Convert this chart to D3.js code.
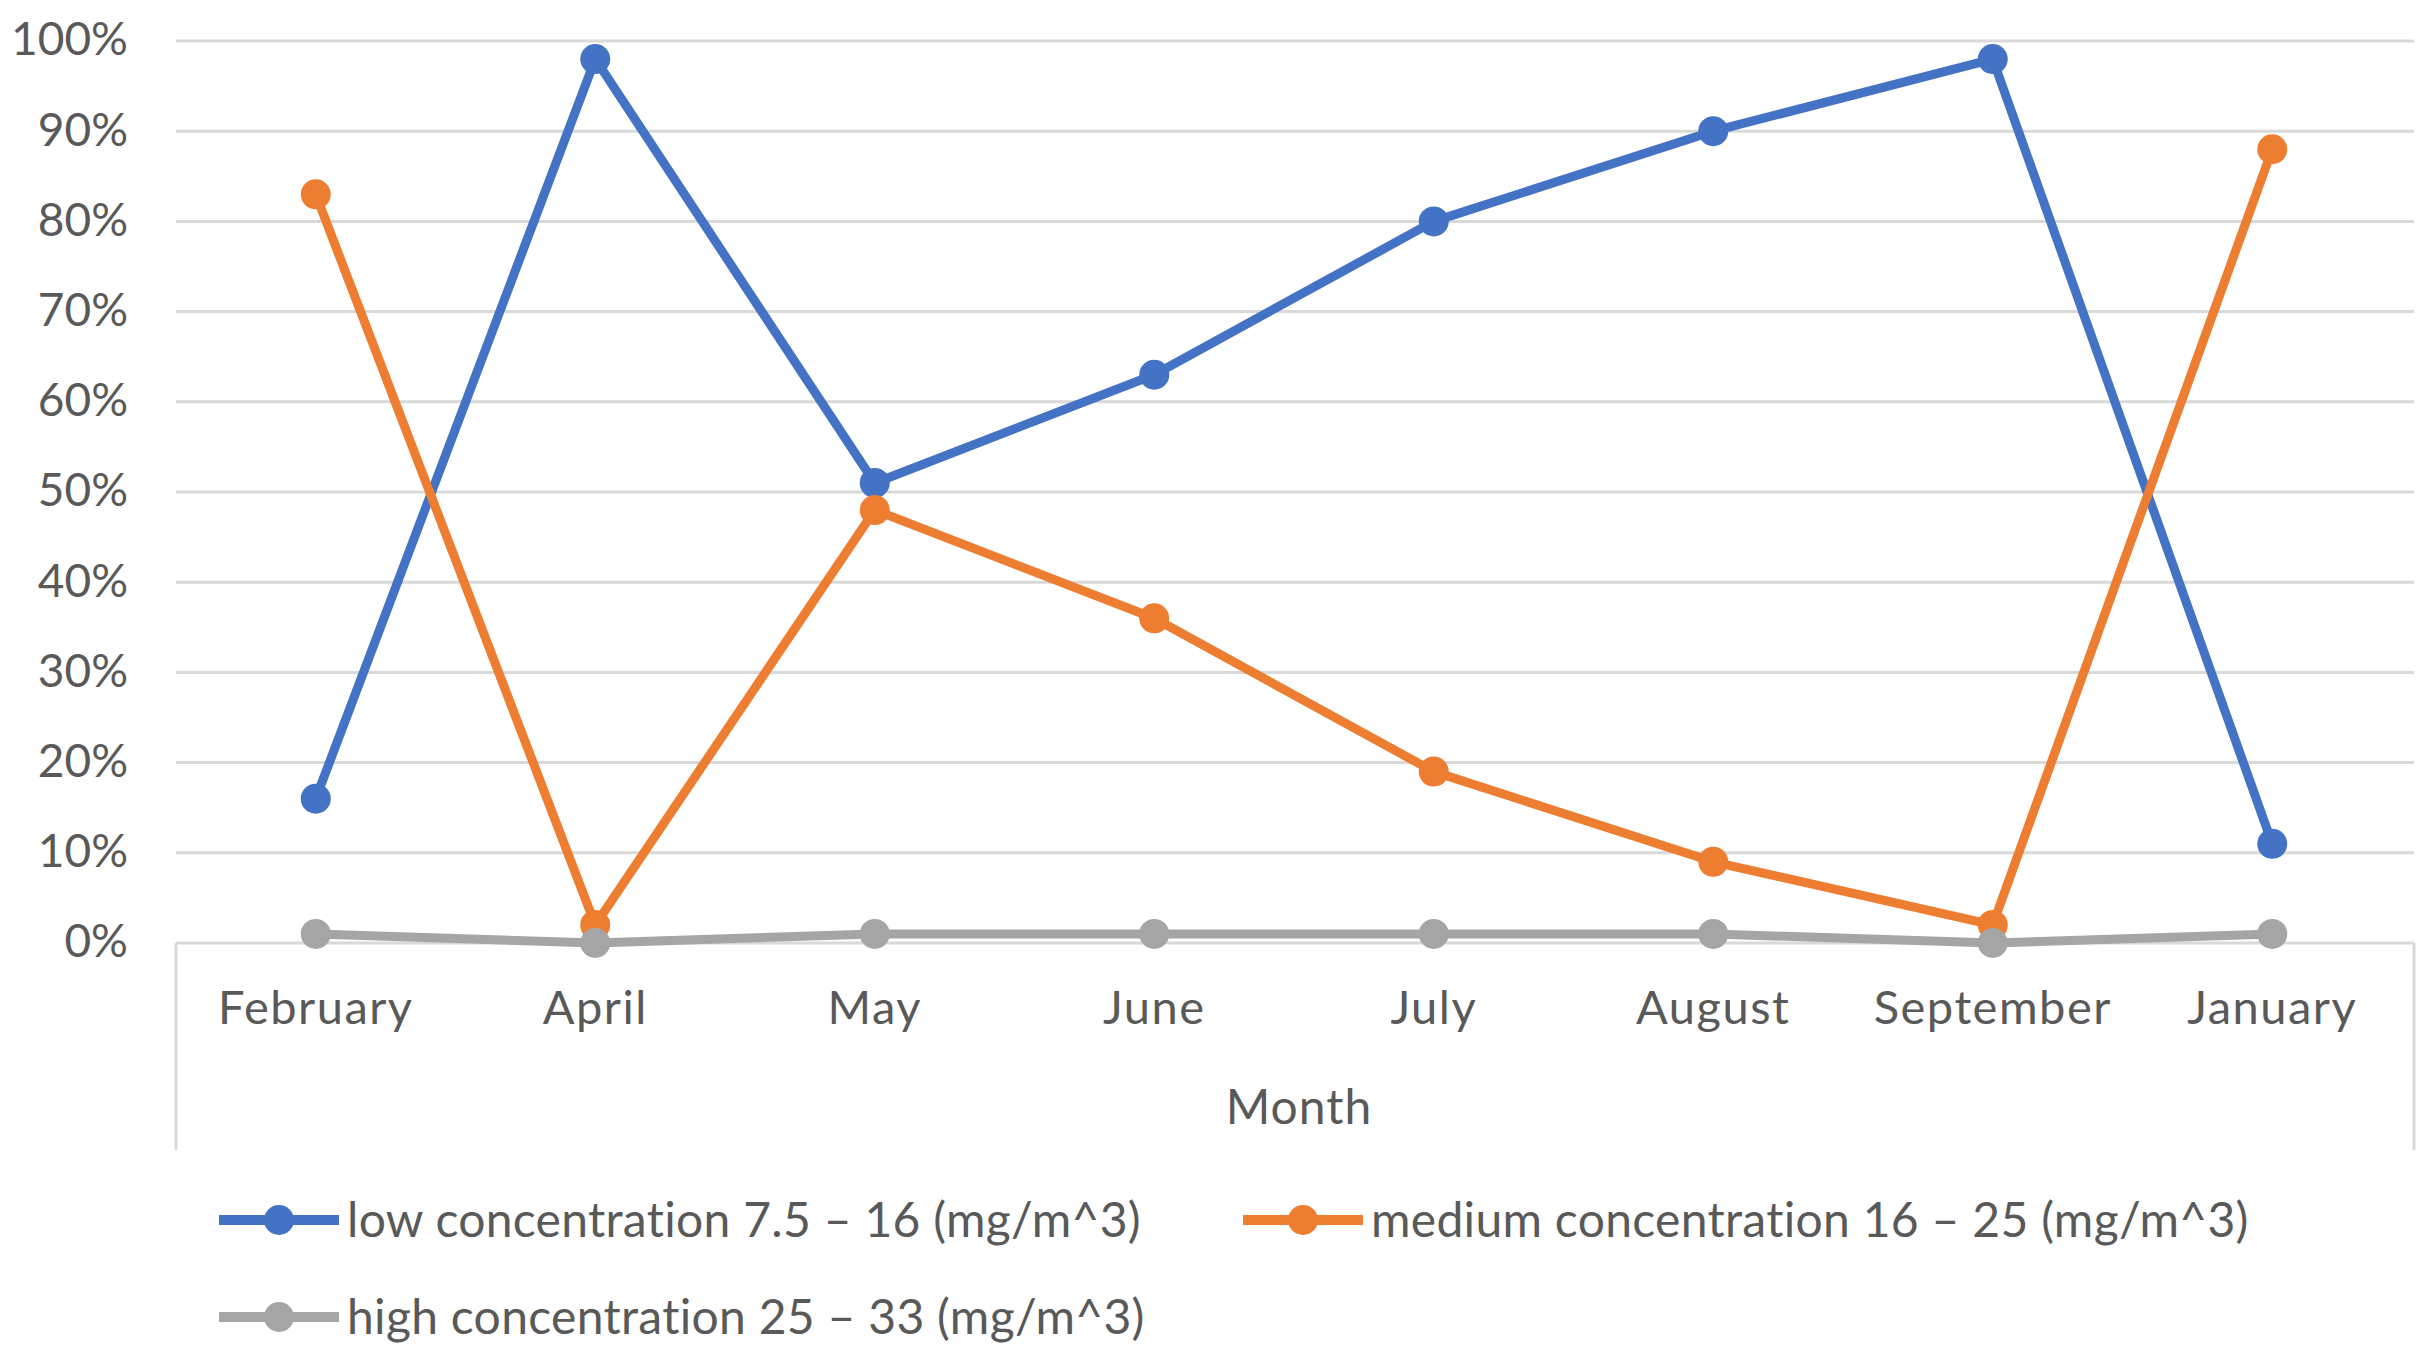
<!DOCTYPE html>
<html>
<head>
<meta charset="utf-8">
<script src="https://cdn.jsdelivr.net/npm/d3@7/dist/d3.min.js"></script>
<style>
  html, body { margin: 0; padding: 0; background: #fff; }
  svg { display: block; }
  text { font-family: Lato, "Open Sans", sans-serif; fill: #595959; }
</style>
</head>
<body>
<svg id="chart" width="2436" height="1352"></svg>
<script>
const months = ["February", "April", "May", "June", "July", "August", "September", "January"];
const lowValues = [16, 98, 51, 63, 80, 90, 98, 11];
const mediumValues = [83, 2, 48, 36, 19, 9, 2, 88];
const highValues = [1, 0, 1, 1, 1, 1, 0, 1];
const yTicks = [0, 10, 20, 30, 40, 50, 60, 70, 80, 90, 100];
const seriesNames = [
  "low concentration 7.5 \u2013 16 (mg/m^3)",
  "medium concentration 16 \u2013 25 (mg/m^3)",
  "high concentration 25 \u2013 33 (mg/m^3)"
];
const seriesColors = ["#4472C4", "#ED7D31", "#A5A5A5"];
const xAxisTitle = "Month";

(function () {
const series = [lowValues, mediumValues, highValues].map((vals, i) => ({
  name: seriesNames[i], color: seriesColors[i],
  points: vals.map((v, j) => ({ m: months[j], v }))
}));

const svg = d3.select("#chart");
const pLeft = 176, pRight = 2412, pTop = 41, pBottom = 943;
const boxRight = pRight + 2;

const x = d3.scaleBand().domain(months).range([pLeft, pRight]);
const y = d3.scaleLinear().domain([0, 100]).range([pBottom, pTop]);

// gridlines
svg.append("g").selectAll("line").data(yTicks.filter(t => t > 0)).join("line")
  .attr("x1", pLeft).attr("x2", boxRight)
  .attr("y1", d => y(d)).attr("y2", d => y(d))
  .attr("stroke", "#d9d9d9").attr("stroke-width", 3);

// y-axis labels
const yAxis = d3.axisLeft(y).tickValues(yTicks).tickFormat(d => d + "%").tickSize(0).tickPadding(0);
const yg = svg.append("g").attr("transform", "translate(128,0)").call(yAxis);
yg.select(".domain").remove();
yg.selectAll("text").attr("font-size", 46).attr("fill", "#595959")
  .style("font-family", "Lato, 'Open Sans', sans-serif").attr("dy", "0.3em");

// x axis line and box
svg.append("line").attr("x1", pLeft).attr("x2", boxRight).attr("y1", pBottom).attr("y2", pBottom)
  .attr("stroke", "#d9d9d9").attr("stroke-width", 3);
svg.append("line").attr("x1", pLeft).attr("x2", pLeft).attr("y1", pBottom).attr("y2", 1150)
  .attr("stroke", "#d9d9d9").attr("stroke-width", 3);
svg.append("line").attr("x1", boxRight).attr("x2", boxRight).attr("y1", pBottom).attr("y2", 1150)
  .attr("stroke", "#d9d9d9").attr("stroke-width", 3);

// x labels
const xAxis = d3.axisBottom(x).tickSize(0).tickPadding(0);
const xg = svg.append("g").attr("transform", "translate(0,1008)").call(xAxis);
xg.select(".domain").remove();
xg.selectAll("text").attr("font-size", 47).attr("fill", "#595959").attr("dy", "0.35em")
  .style("letter-spacing", "1.5px")
  .style("font-family", "Lato, 'Open Sans', sans-serif");

svg.append("text").attr("x", 1299).attr("y", 1107).attr("dy", "0.35em")
  .attr("text-anchor", "middle").attr("font-size", 48).style("letter-spacing", "1px").text(xAxisTitle);

// lines
const line = d3.line().x(d => x(d.m) + x.bandwidth() / 2).y(d => y(d.v));
series.forEach(s => {
  const g = svg.append("g");
  g.append("path").datum(s.points).attr("d", line).attr("fill", "none")
    .attr("stroke", s.color).attr("stroke-width", 9).attr("stroke-linejoin", "round");
  g.selectAll("circle").data(s.points).join("circle")
    .attr("cx", d => x(d.m) + x.bandwidth() / 2).attr("cy", d => y(d.v))
    .attr("r", 15).attr("fill", s.color);
});

// legend
const legendPos = [[219, 1220], [1243, 1220], [219, 1317]];
series.forEach((s, i) => {
  const [lx, ly] = legendPos[i];
  const g = svg.append("g").attr("transform", `translate(${lx},${ly})`);
  g.append("line").attr("x1", 0).attr("x2", 120).attr("y1", 0).attr("y2", 0)
    .attr("stroke", s.color).attr("stroke-width", 10);
  g.append("circle").attr("cx", 60).attr("cy", 0).attr("r", 15).attr("fill", s.color);
  g.append("text").attr("x", 128).attr("y", 0).attr("dy", "0.35em").attr("font-size", 48)
    .style("letter-spacing", "0.3px").text(s.name);
});
})();
</script>
</body>
</html>
